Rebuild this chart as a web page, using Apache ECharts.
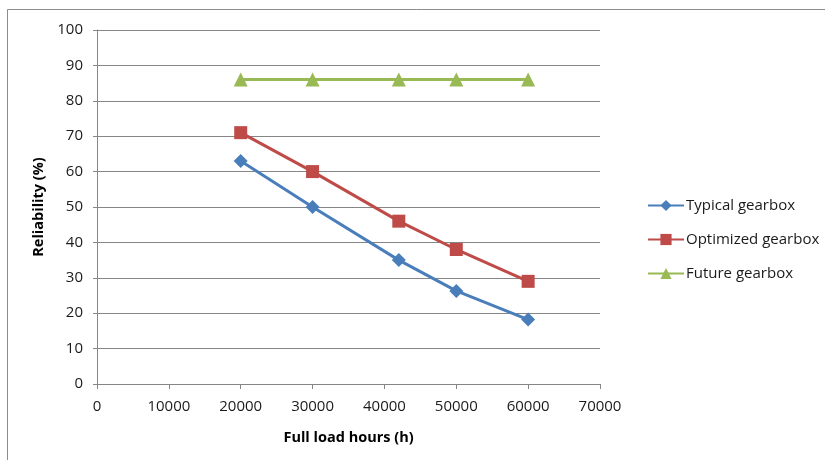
<!DOCTYPE html>
<html><head><meta charset="utf-8">
<script src="https://cdn.jsdelivr.net/npm/echarts@6/dist/echarts.min.js"></script>
<style>html,body{margin:0;padding:0;background:#fff}#c{width:825px;height:460px}</style>
</head><body><div id="c"></div>
<script>
const hours = [20000, 30000, 42000, 50000, 60000];
const typical = [63, 50, 35, 26.3, 18.2];
const optimized = [71, 60, 46, 38, 29];
const future = [86, 86, 86, 86, 86];
const seriesNames = ['Typical gearbox', 'Optimized gearbox', 'Future gearbox'];
const colors = ['#4a7ebb', '#be4b48', '#98b954'];
const symbols = ['diamond', 'rect', 'triangle'];
const symbolSizes = [14, 13, 14];

const chart = echarts.init(document.getElementById('c'), null, {renderer: 'canvas'});
const font = 'Open Sans, Liberation Sans, sans-serif';
const datasets = [typical, optimized, future];
chart.setOption({
  animation: false,
  color: colors,
  graphic: [
    {type: 'line', shape: {x1: 7.5, y1: 9.5, x2: 825, y2: 9.5}, style: {stroke: '#8c8c8c', lineWidth: 1}},
    {type: 'line', shape: {x1: 7.5, y1: 9.5, x2: 7.5, y2: 460}, style: {stroke: '#8c8c8c', lineWidth: 1}}
  ],
  grid: {left: 97, top: 30, width: 503, height: 354, containLabel: false},
  legend: {
    orient: 'vertical', left: 647, top: 198, itemGap: 19, padding: 0,
    itemWidth: 36, itemHeight: 14,
    textStyle: {fontFamily: font, fontSize: 15, color: '#1a1a1a', padding: [0, 0, 0, -3]},
    data: seriesNames
  },
  xAxis: {
    type: 'value', min: 0, max: 70000, interval: 10000,
    name: 'Full load hours (h)', nameLocation: 'middle', nameGap: 46,
    nameTextStyle: {fontFamily: font, fontSize: 14.5, fontWeight: 'bold', color: '#000'},
    axisLine: {show: true, lineStyle: {color: '#868686'}},
    axisTick: {show: true, inside: false, length: 5, lineStyle: {color: '#868686'}},
    axisLabel: {fontFamily: font, fontSize: 15, color: '#1a1a1a', margin: 15, formatter: v => String(v)},
    splitLine: {show: false}
  },
  yAxis: {
    type: 'value', min: 0, max: 100, interval: 10,
    name: 'Reliability (%)', nameLocation: 'middle', nameGap: 49,
    nameTextStyle: {fontFamily: font, fontSize: 14.5, fontWeight: 'bold', color: '#000'},
    axisLine: {show: true, lineStyle: {color: '#868686'}},
    axisTick: {show: true, inside: false, length: 4, lineStyle: {color: '#868686'}},
    axisLabel: {fontFamily: font, fontSize: 15, color: '#1a1a1a', margin: 14},
    splitLine: {show: true, lineStyle: {color: '#868686', width: 1}}
  },
  series: seriesNames.map((n, i) => ({
    name: n, type: 'line',
    data: hours.map((h, k) => [h, datasets[i][k]]),
    symbol: symbols[i], symbolSize: symbolSizes[i],
    lineStyle: {width: 3, color: colors[i]},
    itemStyle: {color: colors[i]},
    smooth: false
  }))
});
</script></body></html>
